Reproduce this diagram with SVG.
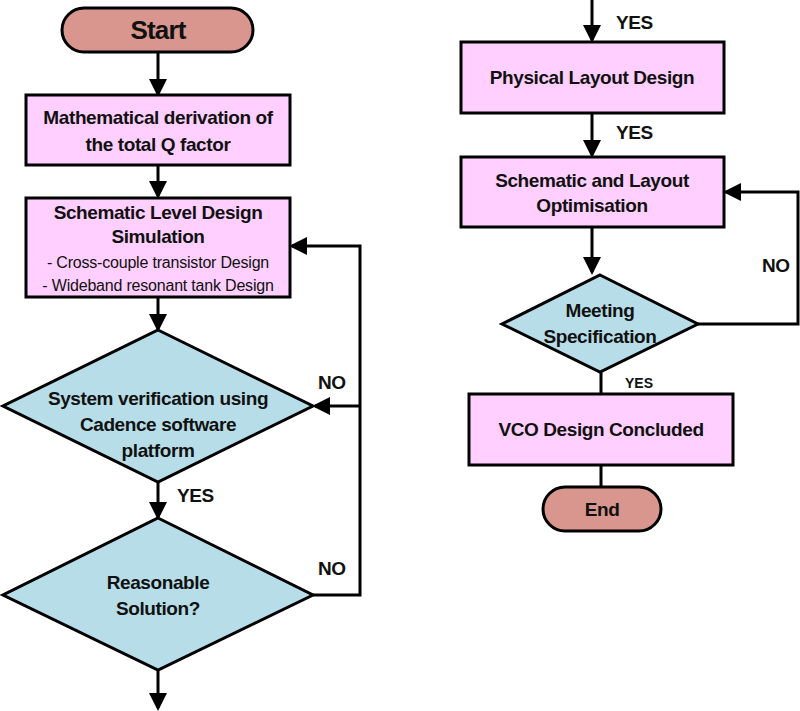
<svg xmlns="http://www.w3.org/2000/svg" width="800" height="711" viewBox="0 0 800 711">
<style>
.pill{fill:#D9968F;stroke:#000;stroke-width:3}
.box{fill:#FFD0FF;stroke:#000;stroke-width:3}
.dia{fill:#B7DEE8;stroke:#000;stroke-width:3}
.t{font-family:"Liberation Sans",Arial,sans-serif;font-weight:bold;font-size:19px;letter-spacing:-0.4px;fill:#111;text-anchor:middle}
.s{font-family:"Liberation Sans",Arial,sans-serif;font-size:16px;letter-spacing:-0.2px;fill:#111;text-anchor:middle}
.big{font-size:26px;letter-spacing:-0.8px}
.lbl{font-family:"Liberation Sans",Arial,sans-serif;font-weight:bold;font-size:19px;letter-spacing:-0.4px;fill:#111}
.sl{font-size:14px;letter-spacing:0}
.c{fill:none;stroke:#000;stroke-width:3}
</style>
<defs>
<marker id="ah" markerWidth="6" markerHeight="6" refX="5" refY="3" orient="auto" markerUnits="strokeWidth">
<path d="M0,0 L6,3 L0,6 z" fill="#000"/>
</marker>
</defs>
<g id="connectors">
<path class="c" d="M158,52 V94" marker-end="url(#ah)"/>
<path class="c" d="M158,165 V196" marker-end="url(#ah)"/>
<path class="c" d="M158,297 V329" marker-end="url(#ah)"/>
<path class="c" d="M158,482 V517" marker-end="url(#ah)"/>
<path class="c" d="M158,670 V708" marker-end="url(#ah)"/>
<path class="c" d="M313,595 H360 V246 H292" marker-end="url(#ah)"/>
<path class="c" d="M360,406 H315" marker-end="url(#ah)"/>
<path class="c" d="M592,0 V40" marker-end="url(#ah)"/>
<path class="c" d="M592,113 V155" marker-end="url(#ah)"/>
<path class="c" d="M592,227 V272" marker-end="url(#ah)"/>
<path class="c" d="M698,324 H798 V192 H726" marker-end="url(#ah)"/>
<path class="c" d="M601,372 V394"/>
<path class="c" d="M601,465 V487"/>
<text class="lbl" x="177" y="502">YES</text>
<text class="lbl" x="318" y="389">NO</text>
<text class="lbl" x="318" y="575">NO</text>
<text class="lbl" x="616" y="29">YES</text>
<text class="lbl" x="616" y="139">YES</text>
<text class="lbl" x="762" y="272">NO</text>
<text class="lbl sl" x="625" y="388">YES</text>
</g>
<g id="start">
<rect class="pill" x="62" y="8" width="191" height="44" rx="22"/>
<text class="t big" x="158" y="39">Start</text>
</g>
<g id="math">
<rect class="box" x="26" y="95" width="264" height="70"/>
<text class="t" x="158" y="124">Mathematical derivation of</text>
<text class="t" x="158" y="151">the total Q factor</text>
</g>
<g id="schematic">
<rect class="box" x="26" y="198" width="264" height="99"/>
<text class="t" x="158" y="219">Schematic Level Design</text>
<text class="t" x="158" y="243">Simulation</text>
<text class="s" x="158" y="268">- Cross-couple transistor Design</text>
<text class="s" x="158" y="291">- Wideband resonant tank Design</text>
</g>
<g id="verify">
<polygon class="dia" points="158,330 313,406 158,482 3,406"/>
<text class="t" x="158" y="405">System verification using</text>
<text class="t" x="158" y="431">Cadence software</text>
<text class="t" x="158" y="457">platform</text>
</g>
<g id="reasonable">
<polygon class="dia" points="158,518 313,595 158,670 3,595"/>
<text class="t" x="158" y="589">Reasonable</text>
<text class="t" x="158" y="615">Solution?</text>
</g>
<g id="physical">
<rect class="box" x="461" y="42" width="263" height="71"/>
<text class="t" x="592" y="84">Physical Layout Design</text>
</g>
<g id="optim">
<rect class="box" x="461" y="157" width="263" height="70"/>
<text class="t" x="592" y="187">Schematic and Layout</text>
<text class="t" x="592" y="212">Optimisation</text>
</g>
<g id="meeting">
<polygon class="dia" points="600,275 698,324 600,372 502,324"/>
<text class="t" x="600" y="317">Meeting</text>
<text class="t" x="600" y="343">Specification</text>
</g>
<g id="vco">
<rect class="box" x="469" y="394" width="264" height="71"/>
<text class="t" x="601" y="436">VCO Design Concluded</text>
</g>
<g id="end">
<rect class="pill" x="543" y="487" width="118" height="44" rx="22"/>
<text class="t" x="602" y="516">End</text>
</g>
</svg>
